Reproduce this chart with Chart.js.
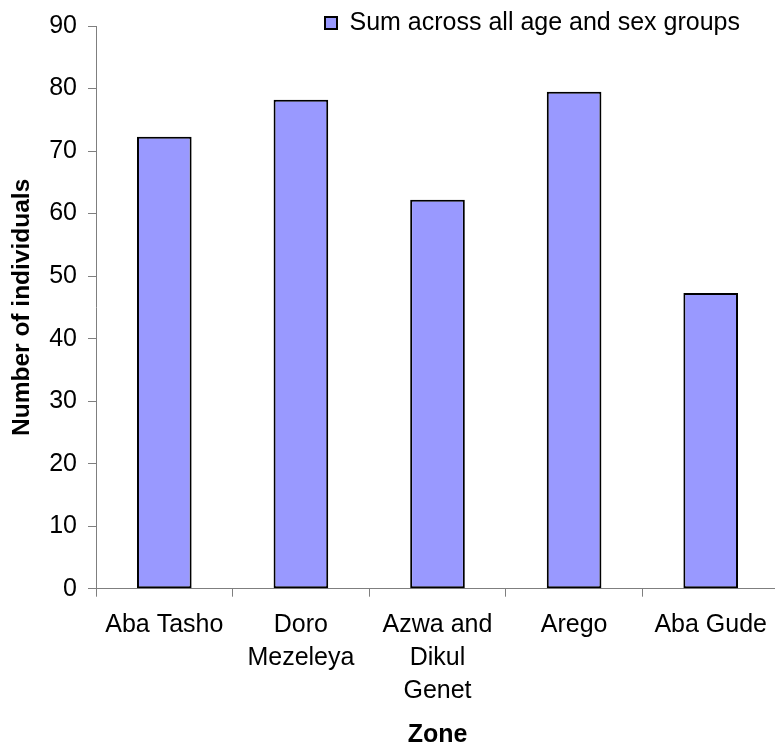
<!DOCTYPE html>
<html>
<head>
<meta charset="utf-8">
<script src="https://cdn.jsdelivr.net/npm/chart.js@4/dist/chart.umd.min.js"></script>
<style>
  html, body { margin: 0; padding: 0; background: #fff; overflow: hidden; }
  #wrap { width: 775px; height: 749px; overflow: hidden; }
  canvas { display: block; }
</style>
</head>
<body>
<div id="wrap"><canvas id="c" width="779" height="749"></canvas></div>
<script>
// Zones (multi-line category labels)
const zones = [
  'Aba Tasho',
  ['Doro', 'Mezeleya'],
  ['Azwa and', 'Dikul', 'Genet'],
  'Arego',
  'Aba Gude'
];
// Number of individuals, summed across all age and sex groups
const totals = [72.3, 78.2, 62.2, 79.5, 47.3];
const seriesName = 'Sum across all age and sex groups';
// Value axis range
const yMin = 0;
const yMax = 90;
const yStep = 10;

const FONT = 'Liberation Sans, Arial, sans-serif';
const AXIS_GREY = '#7f7f7f';

// The legend only reserves a thin strip above the plot; give it its
// full box back at draw time and pull it in from the right edge.
const legendPlacement = {
  id: 'legendPlacement',
  beforeDraw(chart) {
    const lg = chart.legend;
    if (lg) {
      lg.top = 0;
      lg.bottom = 50;
      lg.height = 50;
      lg.right = chart.width - 28.5;
      lg.width = lg.right - lg.left;
    }
  }
};

new Chart(document.getElementById('c'), {
  type: 'bar',
  data: {
    labels: zones,
    datasets: [{
      label: seriesName,
      data: totals,
      backgroundColor: '#9999ff',
      borderColor: '#000000',
      borderWidth: 2,
      borderSkipped: false,
      barPercentage: 1,
      categoryPercentage: 0.4
    }]
  },
  options: {
    responsive: false,
    animation: false,
    devicePixelRatio: 1,
    layout: { padding: 0 },
    plugins: {
      legend: {
        display: true,
        position: 'top',
        align: 'end',
        maxHeight: 24.7,
        labels: {
          boxWidth: 12,
          boxHeight: 12,
          padding: 10.5,
          color: '#000',
          font: { family: FONT, size: 25 }
        }
      },
      tooltip: { enabled: false }
    },
    scales: {
      x: {
        grid: {
          drawOnChartArea: false,
          drawTicks: true,
          tickLength: 8,
          tickColor: AXIS_GREY,
          offset: true
        },
        border: { display: true, color: AXIS_GREY, width: 1 },
        ticks: {
          color: '#000',
          padding: 12,
          maxRotation: 0,
          autoSkip: false,
          font: { family: FONT, size: 25, lineHeight: 1.32 }
        },
        title: {
          display: true,
          text: 'Zone',
          color: '#000',
          padding: { top: 0, bottom: 1.5 },
          font: { family: FONT, size: 25, weight: 'bold', lineHeight: 1.0 }
        },
        afterFit(scale) { scale.height = 160.3; }
      },
      y: {
        min: yMin,
        max: yMax,
        grid: {
          drawOnChartArea: false,
          drawTicks: true,
          tickLength: 8,
          tickColor: AXIS_GREY
        },
        border: { display: true, color: AXIS_GREY, width: 1 },
        ticks: {
          stepSize: yStep,
          color: '#000',
          padding: 11,
          font: { family: FONT, size: 25 }
        },
        title: {
          display: true,
          text: 'Number of individuals',
          color: '#000',
          padding: { top: 10, bottom: 0 },
          font: { family: FONT, size: 24.5, weight: 'bold', lineHeight: 1.0 }
        },
        afterFit(scale) { scale.width = 96; }
      }
    }
  },
  plugins: [legendPlacement]
});
</script>
</body>
</html>
